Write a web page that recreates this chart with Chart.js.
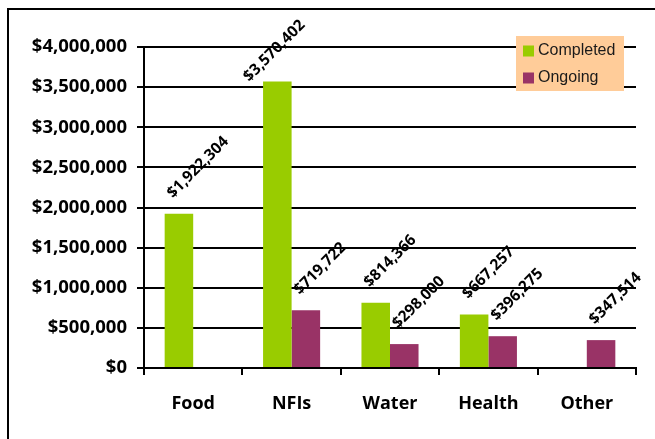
<!DOCTYPE html>
<html>
<head>
<meta charset="utf-8">
<script src="https://cdn.jsdelivr.net/npm/chart.js@4"></script>
<style>
  html, body { margin: 0; padding: 0; background: #ffffff; }
  #wrap { width: 655px; height: 439px; position: relative; overflow: hidden; }
</style>
</head>
<body>
<div id="wrap"><canvas id="c" width="655" height="439"></canvas></div>
<script>
// ---- data ----
const categories = ["Food", "NFIs", "Water", "Health", "Other"];
const seriesNames = ["Completed", "Ongoing"];
const completedValues = [1922304, 3570402, 814366, 667257, null];
const ongoingValues = [null, 719722, 298000, 396275, 347514];
const yTickMin = 0;
const yTickMax = 4000000;
const yTickStep = 500000;

const GREEN = "#99CC00";
const PURPLE = "#993366";
const FONT = "'Open Sans'";

function money(v) {
  return "$" + Number(v).toLocaleString("en-US");
}

// outer frame (partially visible, cut at right and bottom)
const framePlugin = {
  id: "frame",
  beforeDraw(chart) {
    const ctx = chart.ctx;
    ctx.save();
    ctx.fillStyle = "#ffffff";
    ctx.fillRect(0, 0, chart.width, chart.height);
    ctx.strokeStyle = "#000000";
    ctx.lineWidth = 2;
    ctx.beginPath();
    ctx.moveTo(8, chart.height + 2);
    ctx.lineTo(8, 9);
    ctx.lineTo(chart.width + 2, 9);
    ctx.stroke();
    ctx.restore();
  }
};

// rotated value labels above bars
const valueLabelPlugin = {
  id: "valueLabels",
  afterDatasetsDraw(chart) {
    const ctx = chart.ctx;
    ctx.save();
    ctx.font = "bold 15.5px " + FONT;
    ctx.fillStyle = "#000000";
    ctx.textAlign = "left";
    ctx.textBaseline = "alphabetic";
    const minTop = 18;
    chart.data.datasets.forEach((ds, di) => {
      const meta = chart.getDatasetMeta(di);
      meta.data.forEach((bar, i) => {
        const v = ds.data[i];
        if (v === null || v === undefined) return;
        const txt = money(v);
        const w = ctx.measureText(txt).width;
        let sx = bar.x - 6;
        let sy = bar.y - 15;
        const topY = sy - (w + 11) * Math.SQRT1_2;
        if (topY < minTop) {
          const shift = minTop - topY;
          sx -= shift * 1.4;
          sy += shift;
        }
        ctx.save();
        ctx.translate(sx, sy);
        ctx.rotate(-Math.PI / 4);
        ctx.fillText(txt, 0, 0);
        ctx.restore();
      });
    });
    ctx.restore();
  }
};

// legend box inside the plot, peach background
const legendPlugin = {
  id: "boxLegend",
  afterDraw(chart) {
    const ctx = chart.ctx;
    ctx.save();
    const x0 = 516, y0 = 36, w = 108, h = 55;
    ctx.fillStyle = "#FFCC99";
    ctx.fillRect(x0, y0, w, h);
    ctx.font = "16px 'Liberation Sans', Arial, sans-serif";
    ctx.textAlign = "left";
    ctx.textBaseline = "middle";
    chart.data.datasets.forEach((ds, i) => {
      const cy = y0 + 15 + i * 27;
      ctx.fillStyle = ds.backgroundColor;
      ctx.fillRect(x0 + 7, cy - 5.5, 11, 11);
      ctx.fillStyle = "#1a1a1a";
      ctx.fillText(ds.label, x0 + 22, cy);
    });
    ctx.restore();
  }
};

function start() {
  new Chart(document.getElementById("c"), {
    type: "bar",
    data: {
      labels: categories,
      datasets: [
        { label: seriesNames[0], data: completedValues, backgroundColor: GREEN, borderWidth: 0 },
        { label: seriesNames[1], data: ongoingValues, backgroundColor: PURPLE, borderWidth: 0 }
      ]
    },
    options: {
      responsive: false,
      devicePixelRatio: 1,
      animation: false,
      layout: { padding: { top: 47, right: 19, left: 0, bottom: 0 } },
      datasets: {
        bar: { categoryPercentage: 0.58, barPercentage: 1.0 }
      },
      plugins: {
        legend: { display: false },
        tooltip: { enabled: false },
        title: { display: false }
      },
      scales: {
        x: {
          grid: {
            display: true,
            drawOnChartArea: false,
            drawTicks: true,
            tickLength: 7,
            color: "#000000",
            lineWidth: 2,
            offset: true
          },
          border: { display: true, color: "#000000", width: 2 },
          ticks: {
            color: "#000000",
            font: { family: FONT, weight: "bold", size: 18 },
            padding: 18,
            maxRotation: 0
          },
          afterFit(scale) { scale.height = 71; }
        },
        y: {
          min: yTickMin,
          max: yTickMax,
          grid: {
            color: "#000000",
            lineWidth: 2,
            drawTicks: true,
            tickLength: 7
          },
          border: { display: true, color: "#000000", width: 2 },
          ticks: {
            stepSize: yTickStep,
            color: "#000000",
            font: { family: FONT, weight: "bold", size: 18.5 },
            padding: 10,
            callback: (v) => money(v)
          },
          afterFit(scale) { scale.width = 144; }
        }
      }
    },
    plugins: [framePlugin, valueLabelPlugin, legendPlugin]
  });
}

if (document.fonts && document.fonts.load) {
  Promise.all([
    document.fonts.load("bold 18px 'Open Sans'"),
    document.fonts.load("16px 'Liberation Sans'")
  ]).then(start, start);
} else {
  start();
}
</script>
</body>
</html>
